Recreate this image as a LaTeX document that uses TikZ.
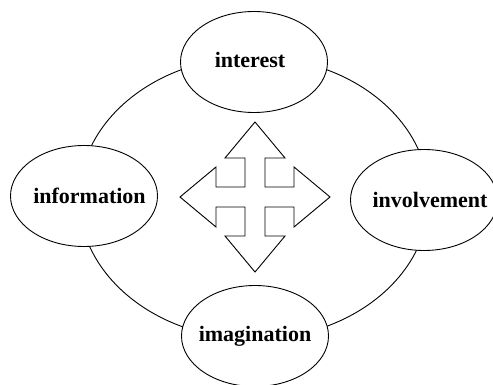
\documentclass[tikz,border=0pt]{standalone}
\usepackage{fontspec}
\setmainfont{Liberation Serif}
\usetikzlibrary{shapes.geometric}
\begin{document}
\begin{tikzpicture}[x=1pt, y=-1pt, line width=0.9pt, line cap=round, line join=miter,
		font=\fontsize{22}{24}\selectfont\bfseries,
		stage/.style={draw, fill=white, ellipse, inner sep=0pt, minimum width=147pt, minimum height=101pt}]
				\useasboundingbox (0,0) rectangle (493,385);
				\clip (0,0) rectangle (493,385);
				% ring behind the four stages
				\draw (254,198) ellipse [x radius=175, y radius=141];
				\node[stage] (interest) at (254,62) {\makebox[0pt]{\raisebox{4pt}{interest}\hspace{8pt}}};
				\node[stage] (information) at (84,196) {\makebox[0pt]{\hspace{11pt}information}};
				\node[stage] (involvement) at (424,200) {\makebox[0pt]{\hspace{12pt}involvement}};
				\node[stage] (imagination) at (255,336) {\makebox[0pt]{\raisebox{3pt}{imagination}}};
				% four-way arrow in the middle
				\draw[fill=white, shift={(255,197)}, y=1pt] (0,75)--(30,39)--(10,39)--(10,10)--(39,10)--(39,30)--(75,0)--(39,-30)--(39,-10)--(10,-10)--(10,-39)--(30,-39)--(0,-75)--(-30,-39)--(-10,-39)--(-10,-10)--(-39,-10)--(-39,-30)--(-75,0)--(-39,30)--(-39,10)--(-10,10)--(-10,39)--(-30,39)--cycle;
			\end{tikzpicture}
\end{document}
